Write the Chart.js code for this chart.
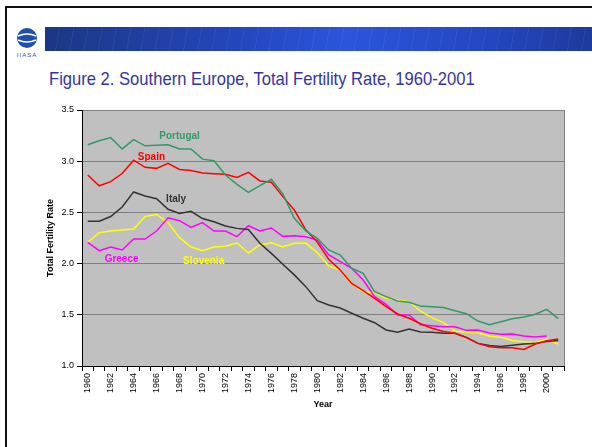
<!DOCTYPE html>
<html>
<head>
<meta charset="utf-8">
<script src="https://cdn.jsdelivr.net/npm/chart.js@4/dist/chart.umd.min.js"></script>
<style>
html, body { margin: 0; padding: 0; background: #fff; }
#slide { position: relative; width: 592px; height: 447px; overflow: hidden; background: #fff; }
#frameTop { position: absolute; left: 5px; top: 6px; width: 587px; height: 2px; background: #111; }
#frameLeft { position: absolute; left: 5px; top: 6px; width: 2px; height: 441px; background: #111; }
#banner { position: absolute; left: 45px; top: 27px; width: 547px; height: 24px;
  background:
    repeating-linear-gradient(100deg, rgba(255,255,255,0.05) 0 1px, rgba(255,255,255,0) 1px 14px),
    linear-gradient(90deg, #1b3784 0%, #2346bd 35%, #2c55dc 55%, #2447c2 80%, #1d3a9c 100%); }
#logo { position: absolute; left: 14px; top: 26px; }
#title { position: absolute; left: 49px; top: 69px; font-family: 'Liberation Sans Narrow', 'Arial Narrow', 'Liberation Sans', Arial, sans-serif;
  font-size: 19px; line-height: 19px; color: #34349c; white-space: nowrap; transform-origin: 0 0; }
#chartBox { position: absolute; left: 0; top: 100px; width: 592px; height: 330px; }
</style>
</head>
<body>
<div id="slide">
  <div id="frameTop"></div>
  <div id="frameLeft"></div>
  <svg id="logo" width="28" height="34" viewBox="0 0 28 34">
    <circle cx="13" cy="12" r="10" fill="#1f4fa8"/>
    <path d="M4 10 Q13 6 22 10" stroke="#fff" stroke-width="1.6" fill="none"/>
    <path d="M4 14 Q13 18 22 14" stroke="#fff" stroke-width="1.6" fill="none"/>
    <text x="13" y="31" font-size="6" font-family="Liberation Sans, Arial" fill="#1f4fa8" text-anchor="middle" letter-spacing="1">IIASA</text>
  </svg>
  <div id="banner"></div>
  <div id="title">Figure 2. Southern Europe, Total Fertility Rate, 1960-2001</div>
  <div id="chartBox"><canvas id="chart" width="592" height="330"></canvas></div>
</div>
<script>
var years = ['1960', '1961', '1962', '1963', '1964', '1965', '1966', '1967', '1968', '1969',
             '1970', '1971', '1972', '1973', '1974', '1975', '1976', '1977', '1978', '1979',
             '1980', '1981', '1982', '1983', '1984', '1985', '1986', '1987', '1988', '1989',
             '1990', '1991', '1992', '1993', '1994', '1995', '1996', '1997', '1998', '1999',
             '2000', '2001'];

var portugal = [3.16, 3.20, 3.23, 3.12, 3.21, 3.15, 3.155, 3.16, 3.12, 3.12,
                3.02, 3.005, 2.865, 2.774, 2.696, 2.761, 2.823, 2.68, 2.442, 2.32,
                2.247, 2.133, 2.084, 1.954, 1.905, 1.726, 1.677, 1.635, 1.622, 1.585,
                1.578, 1.572, 1.54, 1.511, 1.439, 1.403, 1.433, 1.462, 1.479, 1.505,
                1.553, 1.462];
var spain = [2.865, 2.76, 2.80, 2.88, 3.01, 2.94, 2.93, 2.98, 2.92, 2.91,
             2.885, 2.878, 2.872, 2.842, 2.891, 2.807, 2.794, 2.654, 2.523, 2.33,
             2.21, 2.042, 1.938, 1.807, 1.735, 1.661, 1.58, 1.508, 1.466, 1.413,
             1.368, 1.336, 1.32, 1.277, 1.221, 1.188, 1.178, 1.178, 1.162, 1.215,
             1.247, 1.264];
var italy = [2.413, 2.413, 2.46, 2.553, 2.70, 2.66, 2.634, 2.53, 2.49, 2.51,
             2.44, 2.409, 2.367, 2.344, 2.334, 2.198, 2.10, 1.993, 1.89, 1.775,
             1.638, 1.596, 1.566, 1.515, 1.466, 1.423, 1.352, 1.329, 1.361, 1.332,
             1.33, 1.32, 1.32, 1.28, 1.221, 1.20, 1.19, 1.203, 1.215, 1.221,
             1.24, 1.25];
var greece = [2.208, 2.126, 2.162, 2.133, 2.24, 2.24, 2.318, 2.448, 2.419, 2.354,
              2.40, 2.318, 2.318, 2.263, 2.37, 2.318, 2.348, 2.266, 2.273, 2.263,
              2.23, 2.084, 2.019, 1.954, 1.84, 1.677, 1.602, 1.498, 1.498, 1.403,
              1.394, 1.384, 1.384, 1.348, 1.351, 1.322, 1.309, 1.312, 1.293, 1.283,
              1.293, null];
var slovenia = [2.208, 2.302, 2.318, 2.328, 2.338, 2.46, 2.48, 2.40, 2.253, 2.162,
                2.125, 2.162, 2.169, 2.201, 2.104, 2.182, 2.204, 2.162, 2.198, 2.20,
                2.107, 1.977, 1.938, 1.807, 1.726, 1.716, 1.661, 1.645, 1.628, 1.535,
                1.472, 1.423, 1.342, 1.329, 1.325, 1.29, 1.28, 1.25, 1.237, 1.231,
                1.26, 1.215];

var seriesNames = ['Portugal', 'Spain', 'Italy', 'Greece', 'Slovenia'];
var seriesColors = ['#339966', '#ff0000', '#333333', '#ff00ff', '#ffff00'];
// where the in-chart names sit, in axis units (category index, rate)
var nameSpots = [[8.0, 3.24], [5.55, 3.04], [7.7, 2.63], [2.95, 2.04], [10.1, 2.02]];

// fit the title to the slide width of the original
var title = document.getElementById('title');
var w = title.offsetWidth;
if (w > 0) title.style.transform = 'scaleX(' + (426 / w) + ')';

var plotBackground = {
    id: 'plotBackground',
    beforeDraw: function(chart) {
        var a = chart.chartArea, c = chart.ctx;
        c.save();
        c.fillStyle = '#c0c0c0';
        c.fillRect(a.left, a.top, a.right - a.left, a.bottom - a.top);
        c.restore();
    },
    afterDatasetsDraw: function(chart) {
        var a = chart.chartArea, c = chart.ctx;
        var xs = chart.scales.x, ys = chart.scales.y;
        c.save();
        c.strokeStyle = '#808080';
        c.lineWidth = 1;
        c.beginPath();
        c.moveTo(a.right + 0.5, a.top);
        c.lineTo(a.right + 0.5, a.bottom);
        c.stroke();
        c.font = 'bold 10px "Liberation Sans", Arial, sans-serif';
        c.textAlign = 'center';
        c.textBaseline = 'middle';
        for (var i = 0; i < seriesNames.length; i++) {
            c.fillStyle = seriesColors[i];
            c.fillText(seriesNames[i], xs.getPixelForValue(nameSpots[i][0]), ys.getPixelForValue(nameSpots[i][1]));
        }
        c.restore();
    }
};

var allSeries = [portugal, spain, italy, greece, slovenia];
var datasets = [];
for (var i = 0; i < allSeries.length; i++) {
    datasets.push({
        label: seriesNames[i],
        data: allSeries[i],
        borderColor: seriesColors[i],
        backgroundColor: seriesColors[i],
        borderWidth: 1.5,
        pointRadius: 0,
        tension: 0,
        fill: false
    });
}

var ctx = document.getElementById('chart').getContext('2d');
var myChart = new Chart(ctx, {
    type: 'line',
    data: { labels: years, datasets: datasets },
    options: {
        responsive: false,
        animation: false,
        devicePixelRatio: 1,
        layout: { padding: { left: 30, right: 28, top: 10, bottom: 20 } },
        plugins: { legend: { display: false }, tooltip: { enabled: false } },
        scales: {
            x: {
                offset: true,
                grid: { offset: true, drawOnChartArea: false, tickColor: '#000', tickLength: 5 },
                border: { color: '#000' },
                ticks: {
                    autoSkip: false, maxRotation: 90, minRotation: 90, padding: 2,
                    color: '#000', font: { size: 9, family: '"Liberation Sans", Arial, sans-serif' },
                    callback: function(v, i) { return i % 2 === 0 ? years[i] : ''; }
                },
                title: { display: true, text: 'Year', color: '#000', padding: { top: 0, bottom: 0 },
                         font: { size: 9, weight: 'bold', family: '"Liberation Sans", Arial, sans-serif' } },
                afterFit: function(s) { s.height = 44; }
            },
            y: {
                min: 1, max: 3.5,
                grid: { color: '#808080', tickColor: '#000', tickLength: 5 },
                border: { color: '#000' },
                ticks: {
                    stepSize: 0.5, padding: 3, color: '#000',
                    font: { size: 9, family: '"Liberation Sans", Arial, sans-serif' },
                    callback: function(v) { return v.toFixed(1); }
                },
                title: { display: true, text: 'Total Fertility Rate', color: '#000', padding: { top: 15, bottom: 0 },
                         font: { size: 9, weight: 'bold', family: '"Liberation Sans", Arial, sans-serif' } },
                afterFit: function(s) { s.width = 52; }
            }
        }
    },
    plugins: [plotBackground]
});
</script>
</body>
</html>
